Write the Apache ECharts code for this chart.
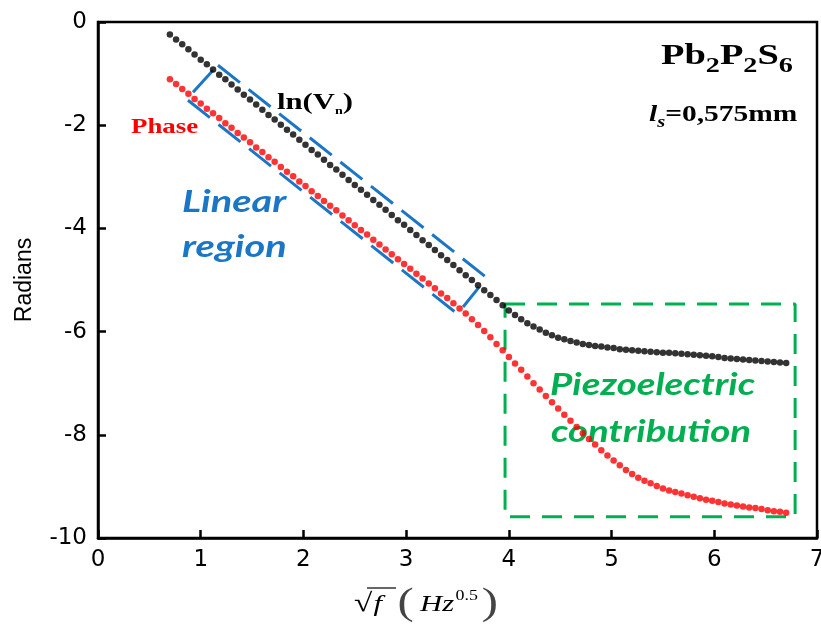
<!DOCTYPE html>
<html>
<head>
<meta charset="utf-8">
<script src="https://cdn.jsdelivr.net/npm/echarts@6/dist/echarts.min.js"></script>
<style>
  html, body { margin: 0; padding: 0; background: #fff; }
  #chart { width: 821px; height: 631px; }
</style>
</head>
<body>
<div id="chart"></div>
<script>
// Square root of frequency, Hz^0.5
const sqrtF = [
  0.70, 0.76, 0.82, 0.88, 0.94, 1.00, 1.06, 1.12, 1.18, 1.24,
  1.30, 1.36, 1.42, 1.48, 1.54, 1.60, 1.66, 1.72, 1.78, 1.84,
  1.90, 1.96, 2.02, 2.08, 2.14, 2.20, 2.26, 2.32, 2.38, 2.44,
  2.50, 2.56, 2.62, 2.68, 2.74, 2.80, 2.86, 2.92, 2.98, 3.04,
  3.10, 3.16, 3.22, 3.28, 3.34, 3.40, 3.46, 3.52, 3.58, 3.64,
  3.70, 3.76, 3.82, 3.88, 3.94, 4.00, 4.06, 4.12, 4.18, 4.24,
  4.30, 4.36, 4.42, 4.48, 4.54, 4.60, 4.66, 4.72, 4.78, 4.84,
  4.90, 4.96, 5.02, 5.08, 5.14, 5.20, 5.26, 5.32, 5.38, 5.44,
  5.50, 5.56, 5.62, 5.68, 5.74, 5.80, 5.86, 5.92, 5.98, 6.04,
  6.10, 6.16, 6.22, 6.28, 6.34, 6.40, 6.46, 6.52, 6.58, 6.64,
  6.70
];

// ln(Vn), radians
const lnVn = [
  -0.24, -0.34, -0.43, -0.53, -0.63, -0.73, -0.82, -0.92, -1.02, -1.11,
  -1.21, -1.31, -1.41, -1.50, -1.60, -1.70, -1.80, -1.89, -1.99, -2.09,
  -2.18, -2.28, -2.38, -2.48, -2.57, -2.67, -2.77, -2.86, -2.96, -3.06,
  -3.16, -3.25, -3.35, -3.45, -3.54, -3.64, -3.74, -3.84, -3.93, -4.03,
  -4.13, -4.23, -4.32, -4.42, -4.52, -4.61, -4.71, -4.81, -4.91, -5.00,
  -5.10, -5.20, -5.29, -5.39, -5.49, -5.59, -5.68, -5.76, -5.84, -5.90,
  -5.96, -6.02, -6.07, -6.12, -6.15, -6.18, -6.21, -6.24, -6.26, -6.28,
  -6.29, -6.31, -6.32, -6.34, -6.35, -6.36, -6.37, -6.38, -6.39, -6.40,
  -6.41, -6.41, -6.42, -6.43, -6.44, -6.45, -6.46, -6.47, -6.48, -6.49,
  -6.51, -6.52, -6.53, -6.54, -6.55, -6.56, -6.57, -6.58, -6.59, -6.60,
  -6.61
];

// Phase, radians
const phase = [
  -1.11, -1.20, -1.30, -1.39, -1.49, -1.58, -1.68, -1.77, -1.86, -1.96,
  -2.05, -2.15, -2.24, -2.33, -2.43, -2.52, -2.62, -2.71, -2.81, -2.90,
  -2.99, -3.09, -3.18, -3.28, -3.37, -3.47, -3.56, -3.65, -3.75, -3.84,
  -3.94, -4.03, -4.12, -4.22, -4.31, -4.41, -4.50, -4.60, -4.69, -4.78,
  -4.88, -4.97, -5.07, -5.16, -5.26, -5.35, -5.45, -5.55, -5.65, -5.76,
  -5.87, -5.99, -6.11, -6.24, -6.36, -6.49, -6.62, -6.74, -6.87, -7.00,
  -7.12, -7.25, -7.37, -7.49, -7.61, -7.73, -7.85, -7.97, -8.08, -8.19,
  -8.30, -8.40, -8.50, -8.59, -8.68, -8.76, -8.83, -8.89, -8.94, -8.99,
  -9.04, -9.08, -9.11, -9.14, -9.17, -9.20, -9.23, -9.26, -9.28, -9.30,
  -9.33, -9.35, -9.37, -9.39, -9.41, -9.42, -9.44, -9.46, -9.48, -9.49,
  -9.51
];

// Band around the linear region (data coordinates)
const bandUpper = [[1.168, -0.838], [3.788, -4.96]];
const bandLower = [[0.876, -1.516], [3.476, -5.62]];
const bandCapLeft = [[1.120, -0.935], [0.925, -1.361]];
const bandCapRight = [[3.710, -5.137], [3.554, -5.524]];

// Frame of the piezoelectric region (data coordinates)
const piezoX = [3.963, 6.787];
const piezoY = [-5.466, -9.59];

const X_RANGE = [0, 7];
const Y_RANGE = [-10, 0];

const BLUE = '#1b76c6';
const GREEN = '#00b050';
const SERIF = '"Liberation Serif", "Times New Roman", serif';
const SANS_IT = 'Lato, "Open Sans", sans-serif';
const STRETCH = 1.28;

const chart = echarts.init(document.getElementById('chart'));

// Text run helper: places consecutive pieces on a shared baseline
const meas = document.createElement('canvas').getContext('2d');
function textRun(x, baseline, parts, fill, k) {
  const children = [];
  let cx = 0;
  parts.forEach(p => {
    const font = p.font;
    meas.font = font;
    children.push({
      type: 'text',
      x: cx,
      y: (p.dy || 0) - (p.k != null ? p.k : k) * p.size,
      style: {
        text: p.t, font: font, fill: p.fill || fill,
        textAlign: 'left', textVerticalAlign: 'middle',
        align: 'left', verticalAlign: 'middle'
      }
    });
    cx += meas.measureText(p.t).width + (p.gap || 0);
  });
  return { type: 'group', x: x, y: baseline, scaleX: STRETCH, children: children };
}

function bandLine(points, dashed) {
  return {
    type: 'line', data: points, symbol: 'none', silent: true, z: 1,
    lineStyle: { color: BLUE, width: 3, type: dashed ? [28, 11] : 'solid', cap: 'butt' }
  };
}

const piezoFrame = [
  [piezoX[0], piezoY[0]], [piezoX[1], piezoY[0]],
  [piezoX[1], piezoY[1]], [piezoX[0], piezoY[1]], [piezoX[0], piezoY[0]]
];

const axisFont = '"DejaVu Sans", sans-serif';

const option = {
  animation: false,
  backgroundColor: '#fff',
  grid: {
    left: 98, right: 4, top: 22, bottom: 93,
    containLabel: false, outerBoundsMode: 'none',
    show: true, borderColor: '#000', borderWidth: 2.5, backgroundColor: 'transparent'
  },
  xAxis: {
    type: 'value', min: X_RANGE[0], max: X_RANGE[1], interval: 1,
    axisLine: { show: true, onZero: false, lineStyle: { color: '#000', width: 2.5 } },
    axisTick: { show: true, inside: true, length: 8, lineStyle: { color: '#000', width: 2.5 } },
    axisLabel: { color: '#000', fontSize: 23, fontFamily: axisFont, margin: 11 },
    splitLine: { show: false }
  },
  yAxis: {
    type: 'value', min: Y_RANGE[0], max: Y_RANGE[1], interval: 2,
    name: 'Radians', nameLocation: 'middle', nameGap: 62,
    nameTextStyle: { color: '#000', fontSize: 23, fontFamily: '"Liberation Sans", Arial, sans-serif' },
    axisLine: { show: true, onZero: false, lineStyle: { color: '#000', width: 2.5 } },
    axisTick: { show: true, inside: true, length: 8, lineStyle: { color: '#000', width: 2.5 } },
    axisLabel: { color: '#000', fontSize: 23, fontFamily: axisFont, margin: 11 },
    splitLine: { show: false }
  },
  series: [
    bandLine(bandUpper, true),
    bandLine(bandLower, true),
    bandLine(bandCapLeft, false),
    bandLine(bandCapRight, false),
    {
      type: 'line', data: piezoFrame, symbol: 'none', silent: true, z: 1,
      lineStyle: { color: GREEN, width: 3, type: [20, 12], cap: 'butt' }
    },
    {
      name: 'ln(Vn)', type: 'scatter', z: 3,
      data: sqrtF.map((x, i) => [x, lnVn[i]]),
      symbol: 'circle', symbolSize: 6.5,
      itemStyle: { color: '#000' }
    },
    {
      name: 'Phase', type: 'scatter', z: 3,
      data: sqrtF.map((x, i) => [x, phase[i]]),
      symbol: 'circle', symbolSize: 6.5,
      itemStyle: { color: '#ff0000' }
    }
  ],
  graphic: [
    // Sample composition
    textRun(661, 66.7, [
      { t: 'Pb', font: `bold 30px ${SERIF}`, size: 30 },
      { t: '2', font: `bold 22px ${SERIF}`, size: 22, dy: 7 },
      { t: 'P', font: `bold 30px ${SERIF}`, size: 30 },
      { t: '2', font: `bold 22px ${SERIF}`, size: 22, dy: 7 },
      { t: 'S', font: `bold 30px ${SERIF}`, size: 30 },
      { t: '6', font: `bold 22px ${SERIF}`, size: 22, dy: 7 }
    ], '#000', 0.3375),
    // Sample thickness
    textRun(649, 123, [
      { t: 'l', font: `italic bold 23px ${SERIF}`, size: 23 },
      { t: 's', font: `italic bold 16px ${SERIF}`, size: 16, dy: 5 },
      { t: '=0,575mm', font: `bold 23px ${SERIF}`, size: 23 }
    ], '#000', 0.3375),
    // Series labels
    textRun(277, 111, [
      { t: 'ln(V', font: `bold 24px ${SERIF}`, size: 24 },
      { t: 'n', font: `bold 11px ${SERIF}`, size: 11, dy: 4 },
      { t: ')', font: `bold 24px ${SERIF}`, size: 24 }
    ], '#000', 0.3375),
    textRun(131, 135, [
      { t: 'Phase', font: `bold 21px ${SERIF}`, size: 21 }
    ], '#ff0000', 0.3375),
    // Region labels
    textRun(182, 214, [{ t: 'Linear', font: `italic bold 31px ${SANS_IT}`, size: 31 }], BLUE, 0.387),
    textRun(182, 259, [{ t: 'region', font: `italic bold 31px ${SANS_IT}`, size: 31 }], BLUE, 0.387),
    textRun(550, 397, [{ t: 'Piezoelectric', font: `italic bold 30px ${SANS_IT}`, size: 30 }], GREEN, 0.387),
    textRun(551, 444, [{ t: 'contribution', font: `italic bold 30px ${SANS_IT}`, size: 30 }], GREEN, 0.387),
    // Horizontal axis title: sqrt(f) (Hz^0.5)
    textRun(354, 613, [
      { t: '\u221A', font: `26px ${SERIF}`, size: 26, gap: 1 },
      { t: 'f', font: `italic 24px ${SERIF}`, size: 24, gap: 12 },
      { t: '(', font: `38px ${SERIF}`, size: 38, dy: 4, fill: '#444', gap: 5 },
      { t: 'Hz', font: `italic 24px ${SERIF}`, size: 24, gap: 1 },
      { t: '0.5', font: `14px ${SERIF}`, size: 14, dy: -12, gap: 3 },
      { t: ')', font: `38px ${SERIF}`, size: 38, dy: 4, fill: '#444' }
    ], '#000', 0.3375),
    {
      type: 'line', silent: true,
      shape: { x1: 367, y1: 588, x2: 396, y2: 588 },
      style: { stroke: '#000', lineWidth: 1.2 }
    }
  ]
};

chart.setOption(option);
</script>
</body>
</html>
